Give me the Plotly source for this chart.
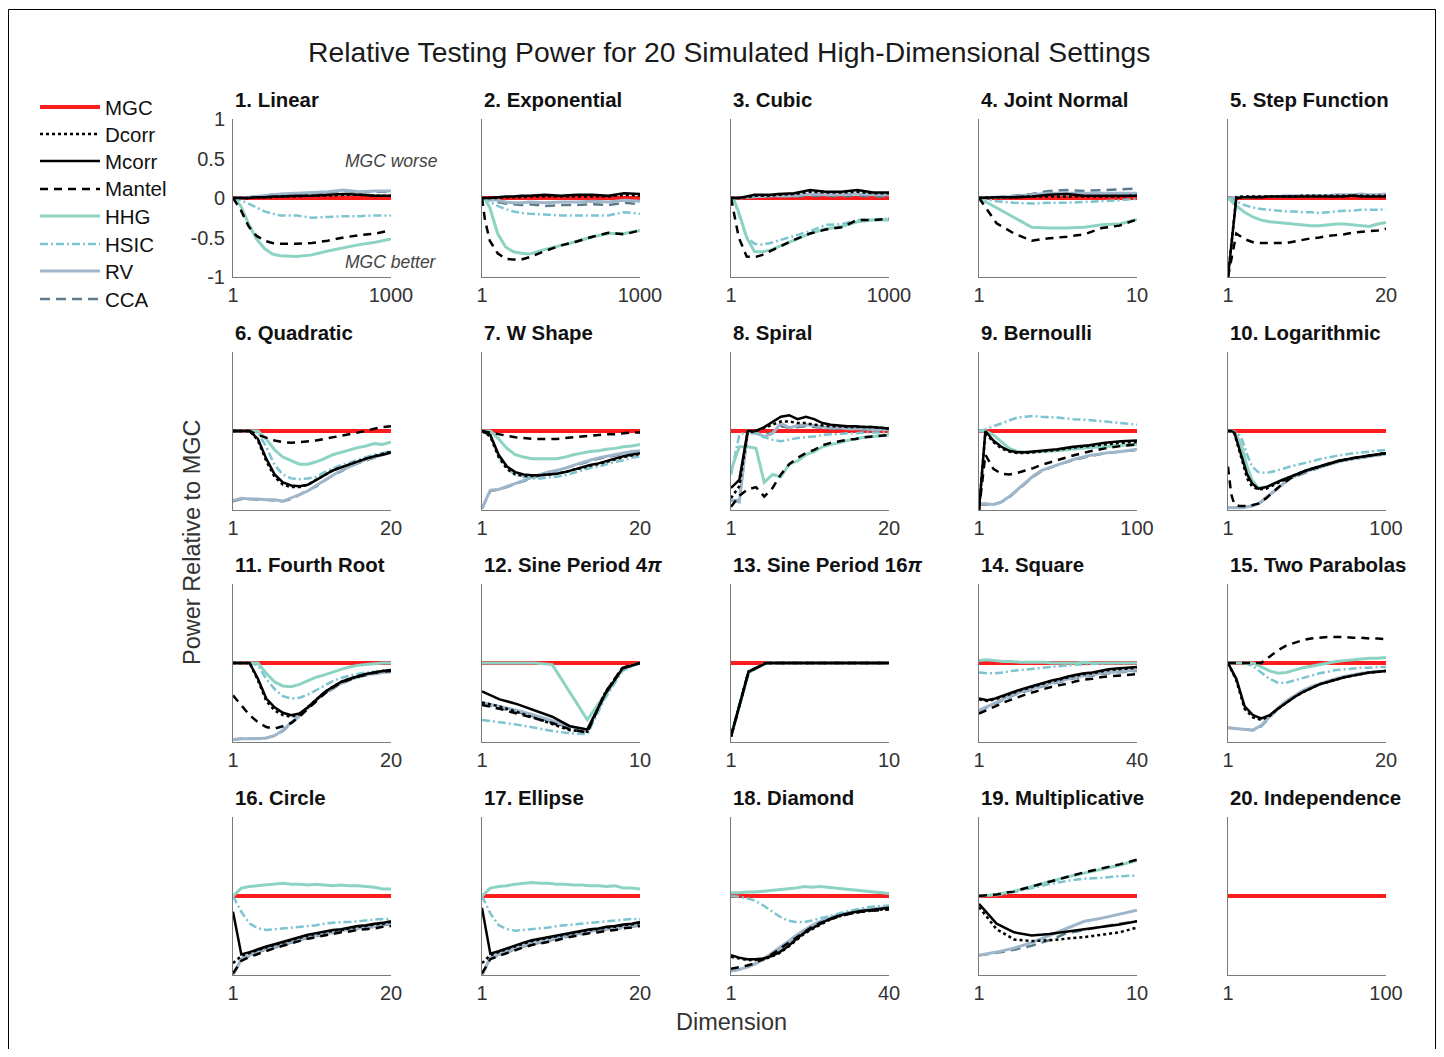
import plotly.graph_objects as go

# page is 1444x1057; the browser body keeps its default 8px margin,
# so the figure itself is 1428x1041 placed at (8, 8)
PAGE_W, PAGE_H = 1444, 1057
OFF = 8
W, H = PAGE_W - 2 * OFF, PAGE_H - 2 * OFF

# ---------------- data ----------------
X_1000 = [1, 20, 50, 100, 150, 200, 250, 300, 400, 500, 600, 700, 800, 900, 1000]
X_10 = [1, 2, 3, 4, 5, 6, 7, 8, 9, 10]
X_20 = [1, 2, 3, 4, 5, 6, 7, 8, 9, 10, 11, 12, 13, 14, 15, 16, 17, 18, 19, 20]
X_40 = [1, 3, 5, 7, 9, 11, 13, 15, 17, 19, 21, 23, 25, 27, 29, 31, 33, 35, 37, 40]
X_100A = [1, 5, 10, 15, 20, 25, 30, 35, 40, 50, 60, 70, 80, 90, 100]
X_100B = [1, 3, 5, 8, 10, 13, 16, 20, 25, 30, 35, 40, 50, 60, 70, 80, 90, 100]
X_100C = [1, 25, 50, 75, 100]

Z15 = [0, 0, 0, 0, 0, 0, 0, 0, 0, 0, 0, 0, 0, 0, 0]
Z10 = [0, 0, 0, 0, 0, 0, 0, 0, 0, 0]
Z20 = [0, 0, 0, 0, 0, 0, 0, 0, 0, 0, 0, 0, 0, 0, 0, 0, 0, 0, 0, 0]
Z18 = [0, 0, 0, 0, 0, 0, 0, 0, 0, 0, 0, 0, 0, 0, 0, 0, 0, 0]
Z5 = [0, 0, 0, 0, 0]

LINEAR = {
    "x": X_1000, "MGC": Z15,
    "Dcorr": [0, 0, 0, 0, 0.01, 0.01, 0.01, 0.02, 0.02, 0.03, 0.03, 0.04, 0.04, 0.03, 0.03],
    "Mcorr": [0, 0, 0, 0, 0.01, 0.01, 0.02, 0.02, 0.03, 0.03, 0.04, 0.05, 0.04, 0.03, 0.03],
    "Mantel": [0, -0.06, -0.15, -0.36, -0.48, -0.54, -0.57, -0.58, -0.58, -0.57, -0.54, -0.5, -0.47, -0.45, -0.41],
    "HHG": [0, -0.03, -0.1, -0.33, -0.52, -0.64, -0.71, -0.73, -0.74, -0.72, -0.67, -0.63, -0.59, -0.56, -0.52],
    "HSIC": [0, -0.01, -0.03, -0.07, -0.12, -0.17, -0.2, -0.22, -0.22, -0.25, -0.24, -0.23, -0.23, -0.22, -0.22],
    "RV": [0, 0, 0, 0.01, 0.02, 0.03, 0.04, 0.05, 0.06, 0.07, 0.08, 0.1, 0.08, 0.09, 0.09],
    "CCA": [0, 0, 0, 0.01, 0.02, 0.03, 0.04, 0.04, 0.06, 0.06, 0.07, 0.09, 0.07, 0.08, 0.08],
}
EXPONENTIAL = {
    "x": X_1000, "MGC": Z15,
    "Dcorr": [0, 0, 0, 0, 0.01, 0.01, 0.01, 0.02, 0.02, 0.02, 0.02, 0.02, 0.02, 0.04, 0.03],
    "Mcorr": [0, 0, 0, 0.01, 0.02, 0.02, 0.03, 0.03, 0.04, 0.03, 0.04, 0.04, 0.03, 0.06, 0.05],
    "Mantel": [0, -0.28, -0.54, -0.7, -0.77, -0.78, -0.78, -0.75, -0.67, -0.6, -0.55, -0.49, -0.44, -0.46, -0.41],
    "HHG": [0, -0.02, -0.12, -0.45, -0.62, -0.68, -0.7, -0.71, -0.65, -0.6, -0.55, -0.49, -0.45, -0.45, -0.41],
    "HSIC": [0, -0.02, -0.05, -0.1, -0.14, -0.17, -0.19, -0.2, -0.21, -0.22, -0.22, -0.22, -0.22, -0.18, -0.2],
    "RV": [0, -0.01, -0.02, -0.03, -0.05, -0.06, -0.06, -0.05, -0.06, -0.05, -0.05, -0.04, -0.05, -0.03, -0.04],
    "CCA": [0, -0.01, -0.03, -0.05, -0.07, -0.08, -0.09, -0.08, -0.1, -0.09, -0.09, -0.08, -0.09, -0.06, -0.08],
}
CUBIC = {
    "x": X_1000, "MGC": Z15,
    "Dcorr": [0, 0, 0, 0.01, 0.03, 0.03, 0.03, 0.04, 0.05, 0.08, 0.07, 0.07, 0.08, 0.06, 0.06],
    "Mcorr": [0, 0, 0, 0.02, 0.04, 0.04, 0.04, 0.05, 0.06, 0.1, 0.08, 0.08, 0.1, 0.07, 0.07],
    "Mantel": [0, -0.2, -0.5, -0.74, -0.75, -0.72, -0.67, -0.62, -0.53, -0.45, -0.4, -0.37, -0.28, -0.28, -0.26],
    "HHG": [0, -0.03, -0.18, -0.5, -0.68, -0.68, -0.66, -0.62, -0.54, -0.45, -0.39, -0.36, -0.3, -0.28, -0.28],
    "HSIC": [0, -0.03, -0.2, -0.5, -0.58, -0.59, -0.57, -0.54, -0.48, -0.42, -0.34, -0.33, -0.28, -0.27, -0.26],
    "RV": [0, 0, 0, 0.01, 0.02, 0.02, 0.03, 0.03, 0.03, 0.05, 0.04, 0.04, 0.05, 0.04, 0.04],
    "CCA": [0, 0, 0, 0.01, 0.01, 0.02, 0.02, 0.02, 0.02, 0.03, 0.03, 0.02, 0.03, 0.02, 0.02],
}
JOINT_NORMAL = {
    "x": X_10, "MGC": Z10,
    "Dcorr": [0, 0.01, 0.01, 0.02, 0.02, 0.02, 0.02, 0.02, 0.02, 0.03],
    "Mcorr": [0, 0.01, 0.01, 0.02, 0.04, 0.05, 0.03, 0.03, 0.03, 0.03],
    "Mantel": [0, -0.32, -0.45, -0.54, -0.51, -0.49, -0.46, -0.38, -0.35, -0.27],
    "HHG": [0, -0.12, -0.25, -0.37, -0.38, -0.38, -0.37, -0.34, -0.33, -0.27],
    "HSIC": [0, -0.04, -0.06, -0.07, -0.06, -0.06, -0.05, -0.04, -0.03, -0.01],
    "RV": [0, 0.01, 0.02, 0.04, 0.06, 0.06, 0.06, 0.06, 0.06, 0.06],
    "CCA": [0, 0.01, 0.03, 0.05, 0.09, 0.1, 0.09, 0.1, 0.11, 0.12],
}
STEP_FUNCTION = {
    "x": X_20, "MGC": Z20,
    "Dcorr": [-1, 0.01, 0.02, 0.02, 0.02, 0.02, 0.02, 0.02, 0.02, 0.03, 0.03, 0.03, 0.03, 0.03, 0.03, 0.03, 0.03, 0.03, 0.03, 0.03],
    "Mcorr": [-1, 0, 0.01, 0.01, 0.01, 0.02, 0.02, 0.02, 0.02, 0.02, 0.02, 0.02, 0.02, 0.02, 0.02, 0.03, 0.02, 0.02, 0.02, 0.02],
    "Mantel": [-1, -0.45, -0.52, -0.56, -0.57, -0.57, -0.57, -0.57, -0.55, -0.53, -0.51, -0.5, -0.48, -0.47, -0.46, -0.44, -0.43, -0.42, -0.41, -0.39],
    "HHG": [0, -0.1, -0.18, -0.24, -0.28, -0.3, -0.31, -0.32, -0.33, -0.34, -0.35, -0.35, -0.34, -0.33, -0.33, -0.34, -0.35, -0.36, -0.33, -0.31],
    "HSIC": [0, -0.05, -0.09, -0.12, -0.14, -0.15, -0.16, -0.17, -0.17, -0.18, -0.18, -0.19, -0.18, -0.17, -0.16, -0.16, -0.15, -0.15, -0.15, -0.14],
    "RV": [0, 0.01, 0.01, 0.02, 0.02, 0.02, 0.02, 0.03, 0.03, 0.03, 0.03, 0.03, 0.03, 0.04, 0.04, 0.04, 0.05, 0.04, 0.04, 0.05],
    "CCA": [0, 0.01, 0.01, 0.01, 0.02, 0.02, 0.02, 0.02, 0.02, 0.02, 0.03, 0.03, 0.03, 0.03, 0.03, 0.03, 0.04, 0.03, 0.03, 0.04],
}
QUADRATIC = {
    "x": X_20, "MGC": Z20,
    "Dcorr": [0, 0, 0, -0.12, -0.38, -0.58, -0.68, -0.71, -0.71, -0.68, -0.62, -0.56, -0.5, -0.46, -0.42, -0.38, -0.35, -0.32, -0.29, -0.26],
    "Mcorr": [0, 0, 0, -0.1, -0.35, -0.55, -0.65, -0.69, -0.7, -0.68, -0.62, -0.56, -0.5, -0.46, -0.42, -0.38, -0.35, -0.32, -0.3, -0.27],
    "Mantel": [0, 0, 0, -0.05, -0.09, -0.12, -0.14, -0.15, -0.14, -0.13, -0.12, -0.1, -0.08, -0.06, -0.04, -0.02, 0, 0.03, 0.05, 0.06],
    "HHG": [0, 0, 0, 0, -0.1, -0.24, -0.33, -0.38, -0.42, -0.42, -0.39, -0.35, -0.3, -0.27, -0.24, -0.21, -0.19, -0.16, -0.17, -0.14],
    "HSIC": [0, 0, 0, -0.02, -0.2, -0.43, -0.55, -0.6, -0.61, -0.6, -0.58, -0.52, -0.47, -0.43, -0.4, -0.36, -0.33, -0.3, -0.28, -0.26],
    "RV": [-0.88, -0.85, -0.86, -0.86, -0.87, -0.87, -0.89, -0.85, -0.8, -0.76, -0.69, -0.62, -0.56, -0.5, -0.45, -0.4, -0.36, -0.33, -0.3, -0.27],
    "CCA": [-0.89, -0.86, -0.86, -0.87, -0.87, -0.88, -0.89, -0.86, -0.81, -0.76, -0.7, -0.63, -0.56, -0.51, -0.45, -0.41, -0.37, -0.33, -0.3, -0.27],
}
W_SHAPE = {
    "x": X_20, "MGC": Z20,
    "Dcorr": [0, -0.07, -0.33, -0.48, -0.55, -0.57, -0.57, -0.56, -0.55, -0.54, -0.52, -0.49, -0.47, -0.44, -0.42, -0.39, -0.36, -0.33, -0.31, -0.29],
    "Mcorr": [0, -0.05, -0.3, -0.45, -0.52, -0.55, -0.56, -0.56, -0.55, -0.54, -0.52, -0.49, -0.46, -0.43, -0.41, -0.38, -0.35, -0.32, -0.3, -0.28],
    "Mantel": [0, -0.02, -0.04, -0.06, -0.08, -0.09, -0.1, -0.1, -0.1, -0.1, -0.09, -0.08, -0.07, -0.06, -0.05, -0.04, -0.04, -0.03, -0.02, -0.02],
    "HHG": [0, 0, -0.1, -0.22, -0.3, -0.33, -0.35, -0.35, -0.35, -0.35, -0.33, -0.3, -0.28, -0.26, -0.25, -0.23, -0.22, -0.2, -0.19, -0.17],
    "HSIC": [0, -0.06, -0.32, -0.48, -0.55, -0.58, -0.6, -0.6, -0.59, -0.58, -0.56, -0.53, -0.5, -0.47, -0.45, -0.42, -0.39, -0.37, -0.34, -0.32],
    "RV": [-0.98, -0.75, -0.74, -0.7, -0.66, -0.62, -0.58, -0.55, -0.52, -0.5, -0.47, -0.43, -0.4, -0.37, -0.34, -0.32, -0.3, -0.28, -0.26, -0.25],
    "CCA": [-0.98, -0.76, -0.74, -0.71, -0.67, -0.63, -0.59, -0.56, -0.53, -0.5, -0.47, -0.44, -0.41, -0.38, -0.35, -0.33, -0.31, -0.29, -0.27, -0.26],
}
SPIRAL = {
    "x": X_20, "MGC": Z20,
    "Dcorr": [-0.85, -0.7, -0.02, 0, 0.04, 0.08, 0.12, 0.12, 0.1, 0.1, 0.08, 0.07, 0.06, 0.06, 0.05, 0.05, 0.05, 0.05, 0.04, 0.03],
    "Mcorr": [-0.72, -0.62, 0, 0, 0.05, 0.12, 0.18, 0.2, 0.15, 0.18, 0.15, 0.1, 0.08, 0.07, 0.06, 0.06, 0.05, 0.05, 0.04, 0.03],
    "Mantel": [-0.96, -0.82, -0.74, -0.71, -0.83, -0.72, -0.55, -0.42, -0.34, -0.28, -0.24, -0.18, -0.15, -0.13, -0.11, -0.1, -0.08, -0.07, -0.06, -0.05],
    "HHG": [-0.5, -0.2, -0.2, -0.22, -0.65, -0.55, -0.58, -0.42, -0.38, -0.3, -0.26, -0.2, -0.17, -0.15, -0.12, -0.1, -0.08, -0.07, -0.06, -0.05],
    "HSIC": [-0.55, -0.05, 0, -0.03, -0.08, -0.11, -0.13, -0.11, -0.09, -0.08, -0.07, -0.05, -0.04, -0.04, -0.03, -0.03, -0.02, -0.02, -0.02, -0.02],
    "RV": [-0.87, -0.9, 0, -0.02, -0.07, -0.03, 0.1, 0.04, 0.07, 0.08, 0.07, 0.05, 0.04, 0.04, 0.03, 0.03, 0.03, 0.02, 0.02, 0.02],
    "CCA": [-0.88, -0.88, -0.02, -0.03, -0.05, -0.02, 0.06, 0.04, 0.05, 0.06, 0.05, 0.04, 0.03, 0.03, 0.03, 0.02, 0.02, 0.02, 0.02, 0.02],
}
BERNOULLI = {
    "x": X_100A, "MGC": Z15,
    "Dcorr": [-1, -0.02, -0.14, -0.22, -0.26, -0.28, -0.28, -0.27, -0.26, -0.24, -0.21, -0.19, -0.17, -0.15, -0.14],
    "Mcorr": [-1, 0, -0.12, -0.2, -0.25, -0.27, -0.27, -0.26, -0.25, -0.23, -0.2, -0.18, -0.15, -0.13, -0.12],
    "Mantel": [-1, -0.3, -0.48, -0.54, -0.55, -0.53, -0.5, -0.47, -0.43, -0.37, -0.31, -0.26, -0.22, -0.19, -0.17],
    "HHG": [0, 0, -0.05, -0.14, -0.22, -0.26, -0.27, -0.27, -0.26, -0.25, -0.23, -0.21, -0.2, -0.18, -0.17],
    "HSIC": [0, 0.02, 0.06, 0.1, 0.14, 0.17, 0.18, 0.19, 0.18, 0.17, 0.15, 0.14, 0.12, 0.1, 0.08],
    "RV": [-0.92, -0.92, -0.93, -0.9, -0.83, -0.74, -0.65, -0.57, -0.5, -0.43, -0.36, -0.31, -0.28, -0.26, -0.23],
    "CCA": [-0.93, -0.93, -0.93, -0.9, -0.84, -0.75, -0.66, -0.58, -0.51, -0.43, -0.37, -0.32, -0.28, -0.26, -0.24],
}
LOGARITHMIC = {
    "x": X_100B, "MGC": Z18,
    "Dcorr": [0, 0, -0.03, -0.25, -0.4, -0.6, -0.7, -0.74, -0.73, -0.68, -0.63, -0.58, -0.5, -0.44, -0.38, -0.34, -0.31, -0.28],
    "Mcorr": [0, 0, -0.02, -0.22, -0.35, -0.55, -0.66, -0.73, -0.71, -0.66, -0.62, -0.58, -0.5, -0.44, -0.38, -0.34, -0.31, -0.28],
    "Mantel": [-0.45, -0.8, -0.93, -0.95, -0.95, -0.95, -0.94, -0.92, -0.85, -0.76, -0.67, -0.6, -0.5, -0.44, -0.38, -0.34, -0.31, -0.28],
    "HHG": [0, 0, -0.01, -0.12, -0.22, -0.45, -0.62, -0.72, -0.71, -0.66, -0.62, -0.58, -0.5, -0.44, -0.38, -0.34, -0.31, -0.28],
    "HSIC": [0, 0, -0.01, -0.05, -0.12, -0.3, -0.45, -0.52, -0.53, -0.51, -0.48, -0.45, -0.4, -0.35, -0.31, -0.28, -0.26, -0.24],
    "RV": [-0.97, -0.97, -0.97, -0.97, -0.97, -0.96, -0.95, -0.92, -0.84, -0.75, -0.67, -0.6, -0.51, -0.45, -0.39, -0.35, -0.32, -0.29],
    "CCA": [-0.97, -0.97, -0.97, -0.97, -0.97, -0.96, -0.95, -0.93, -0.85, -0.76, -0.68, -0.6, -0.52, -0.45, -0.39, -0.35, -0.32, -0.29],
}
FOURTH_ROOT = {
    "x": X_20, "MGC": Z20,
    "Dcorr": [0, 0, 0, -0.22, -0.48, -0.6, -0.66, -0.68, -0.65, -0.56, -0.46, -0.37, -0.3, -0.24, -0.2, -0.17, -0.14, -0.12, -0.1, -0.09],
    "Mcorr": [0, 0, 0, -0.2, -0.45, -0.56, -0.63, -0.66, -0.64, -0.56, -0.46, -0.37, -0.3, -0.24, -0.2, -0.17, -0.14, -0.12, -0.1, -0.09],
    "Mantel": [-0.41, -0.53, -0.66, -0.75, -0.81, -0.83, -0.8, -0.76, -0.68, -0.58, -0.48, -0.39, -0.31, -0.25, -0.21, -0.17, -0.15, -0.12, -0.11, -0.1],
    "HHG": [0, 0, 0, 0, -0.13, -0.24, -0.29, -0.3, -0.27, -0.22, -0.18, -0.15, -0.11, -0.08, -0.05, -0.03, -0.02, -0.01, 0, 0],
    "HSIC": [0, 0, 0, -0.03, -0.2, -0.33, -0.42, -0.45, -0.44, -0.4, -0.34, -0.28, -0.23, -0.19, -0.16, -0.14, -0.12, -0.11, -0.1, -0.09],
    "RV": [-0.97, -0.96, -0.96, -0.96, -0.95, -0.92, -0.85, -0.76, -0.66, -0.56, -0.47, -0.38, -0.31, -0.26, -0.21, -0.18, -0.15, -0.13, -0.12, -0.11],
    "CCA": [-0.97, -0.96, -0.96, -0.96, -0.95, -0.92, -0.86, -0.77, -0.67, -0.57, -0.47, -0.39, -0.32, -0.26, -0.22, -0.18, -0.16, -0.14, -0.12, -0.11],
}
SINE_4PI = {
    "x": X_10, "MGC": Z10,
    "Dcorr": [-0.5, -0.55, -0.62, -0.7, -0.77, -0.85, -0.87, -0.38, -0.06, 0],
    "Mcorr": [-0.36, -0.46, -0.52, -0.6, -0.68, -0.8, -0.84, -0.4, -0.07, 0],
    "Mantel": [-0.53, -0.58, -0.64, -0.7, -0.76, -0.84, -0.88, -0.38, -0.06, 0],
    "HHG": [0, 0, 0, 0, -0.02, -0.37, -0.72, -0.4, -0.08, 0],
    "HSIC": [-0.72, -0.75, -0.78, -0.82, -0.86, -0.89, -0.9, -0.45, -0.1, 0],
    "RV": [-0.5, -0.55, -0.6, -0.66, -0.73, -0.8, -0.85, -0.42, -0.07, 0],
    "CCA": [-0.52, -0.57, -0.62, -0.68, -0.75, -0.82, -0.86, -0.4, -0.07, 0],
}
SINE_16PI = {
    "x": X_10, "MGC": Z10,
    "Dcorr": [-0.93, -0.11, 0, 0, 0, 0, 0, 0, 0, 0],
    "Mcorr": [-0.93, -0.11, 0, 0, 0, 0, 0, 0, 0, 0],
    "Mantel": [-0.93, -0.11, 0, 0, 0, 0, 0, 0, 0, 0],
    "HHG": [-0.93, -0.12, 0, 0, 0, 0, 0, 0, 0, 0],
    "HSIC": [-0.92, -0.11, 0, 0, 0, 0, 0, 0, 0, 0],
    "RV": [-0.93, -0.12, 0, 0, 0, 0, 0, 0, 0, 0],
    "CCA": [-0.93, -0.12, 0, 0, 0, 0, 0, 0, 0, 0],
}
SQUARE = {
    "x": X_40, "MGC": Z20,
    "Dcorr": [-0.46, -0.48, -0.46, -0.42, -0.38, -0.35, -0.32, -0.29, -0.26, -0.23, -0.21, -0.18, -0.16, -0.14, -0.13, -0.11, -0.09, -0.08, -0.07, -0.06],
    "Mcorr": [-0.45, -0.47, -0.45, -0.41, -0.37, -0.34, -0.31, -0.28, -0.25, -0.22, -0.2, -0.17, -0.15, -0.13, -0.12, -0.1, -0.08, -0.07, -0.06, -0.05],
    "Mantel": [-0.64, -0.6, -0.55, -0.5, -0.46, -0.42, -0.39, -0.36, -0.33, -0.3, -0.28, -0.26, -0.23, -0.21, -0.2, -0.18, -0.17, -0.16, -0.15, -0.14],
    "HHG": [0.03, 0.04, 0.03, 0.02, 0.02, 0.01, 0.01, 0.01, 0.01, 0, 0, 0, 0, 0.01, 0, 0, 0, 0, 0, 0],
    "HSIC": [-0.12, -0.13, -0.13, -0.12, -0.1, -0.09, -0.08, -0.07, -0.06, -0.05, -0.04, -0.03, -0.02, -0.02, -0.01, -0.01, 0, 0, 0, 0],
    "RV": [-0.6, -0.55, -0.5, -0.45, -0.41, -0.37, -0.34, -0.31, -0.28, -0.25, -0.23, -0.2, -0.18, -0.16, -0.15, -0.13, -0.12, -0.11, -0.1, -0.09],
    "CCA": [-0.61, -0.56, -0.51, -0.46, -0.42, -0.38, -0.35, -0.32, -0.29, -0.26, -0.24, -0.21, -0.19, -0.17, -0.16, -0.14, -0.13, -0.12, -0.11, -0.1],
}
TWO_PARABOLAS = {
    "x": X_20, "MGC": Z20,
    "Dcorr": [0, -0.22, -0.58, -0.69, -0.72, -0.67, -0.58, -0.5, -0.43, -0.37, -0.32, -0.27, -0.24, -0.21, -0.18, -0.16, -0.14, -0.12, -0.11, -0.1],
    "Mcorr": [0, -0.2, -0.55, -0.66, -0.7, -0.66, -0.58, -0.5, -0.43, -0.37, -0.32, -0.27, -0.24, -0.21, -0.18, -0.16, -0.14, -0.12, -0.11, -0.1],
    "Mantel": [0, 0, 0, 0, 0, 0.08, 0.16, 0.22, 0.26, 0.29, 0.31, 0.32, 0.33, 0.33, 0.33, 0.32, 0.32, 0.31, 0.31, 0.3],
    "HHG": [0, 0, 0, 0, -0.05, -0.1, -0.13, -0.12, -0.09, -0.06, -0.04, -0.02, 0, 0.02, 0.03, 0.04, 0.05, 0.06, 0.06, 0.07],
    "HSIC": [0, 0, 0, -0.04, -0.12, -0.2, -0.25, -0.25, -0.22, -0.19, -0.16, -0.13, -0.11, -0.09, -0.08, -0.07, -0.06, -0.06, -0.05, -0.05],
    "RV": [-0.82, -0.83, -0.84, -0.85, -0.79, -0.68, -0.57, -0.48, -0.41, -0.35, -0.3, -0.26, -0.23, -0.2, -0.17, -0.15, -0.13, -0.12, -0.11, -0.1],
    "CCA": [-0.82, -0.83, -0.84, -0.85, -0.8, -0.69, -0.58, -0.49, -0.42, -0.36, -0.31, -0.27, -0.23, -0.2, -0.18, -0.16, -0.14, -0.12, -0.11, -0.1],
}
CIRCLE = {
    "x": X_20, "MGC": Z20,
    "Dcorr": [-0.85, -0.76, -0.72, -0.68, -0.65, -0.62, -0.59, -0.56, -0.53, -0.5, -0.48, -0.46, -0.44, -0.43, -0.41, -0.39, -0.38, -0.36, -0.35, -0.33],
    "Mcorr": [-0.2, -0.74, -0.71, -0.67, -0.64, -0.61, -0.58, -0.55, -0.52, -0.49, -0.47, -0.45, -0.43, -0.42, -0.4, -0.38, -0.37, -0.35, -0.34, -0.32],
    "Mantel": [-0.98, -0.82, -0.77, -0.73, -0.69, -0.66, -0.63, -0.6, -0.57, -0.54, -0.52, -0.5, -0.48, -0.46, -0.45, -0.43, -0.42, -0.41, -0.39, -0.38],
    "HHG": [0, 0.1, 0.12, 0.13, 0.14, 0.15, 0.16, 0.15, 0.15, 0.14, 0.15, 0.14, 0.13, 0.14, 0.13, 0.13, 0.12, 0.11, 0.09, 0.09],
    "HSIC": [0, -0.2, -0.35, -0.41, -0.43, -0.42, -0.41, -0.4, -0.39, -0.38, -0.37, -0.35, -0.34, -0.33, -0.33, -0.32, -0.31, -0.3, -0.29, -0.29],
    "RV": [-1.0, -0.8, -0.75, -0.7, -0.67, -0.64, -0.61, -0.58, -0.55, -0.52, -0.5, -0.48, -0.46, -0.44, -0.42, -0.41, -0.39, -0.38, -0.36, -0.35],
    "CCA": [-1.0, -0.81, -0.76, -0.71, -0.68, -0.65, -0.62, -0.59, -0.56, -0.53, -0.51, -0.49, -0.47, -0.45, -0.43, -0.42, -0.4, -0.39, -0.37, -0.36],
}
ELLIPSE = {
    "x": X_20, "MGC": Z20,
    "Dcorr": [-0.85, -0.75, -0.71, -0.67, -0.63, -0.6, -0.57, -0.55, -0.53, -0.51, -0.49, -0.47, -0.45, -0.43, -0.42, -0.4, -0.39, -0.37, -0.36, -0.34],
    "Mcorr": [-0.15, -0.73, -0.7, -0.66, -0.62, -0.59, -0.56, -0.54, -0.52, -0.5, -0.48, -0.46, -0.44, -0.42, -0.41, -0.39, -0.38, -0.36, -0.35, -0.33],
    "Mantel": [-0.98, -0.8, -0.76, -0.72, -0.68, -0.65, -0.62, -0.6, -0.58, -0.56, -0.53, -0.51, -0.49, -0.47, -0.46, -0.44, -0.43, -0.41, -0.4, -0.38],
    "HHG": [0, 0.1, 0.12, 0.13, 0.15, 0.16, 0.17, 0.16, 0.16, 0.15, 0.15, 0.14, 0.14, 0.13, 0.13, 0.12, 0.13, 0.1, 0.1, 0.09],
    "HSIC": [0, -0.22, -0.37, -0.42, -0.44, -0.43, -0.42, -0.41, -0.4, -0.38, -0.37, -0.36, -0.35, -0.34, -0.33, -0.32, -0.31, -0.3, -0.29, -0.29],
    "RV": [-1.0, -0.78, -0.74, -0.7, -0.66, -0.63, -0.6, -0.58, -0.56, -0.53, -0.51, -0.49, -0.47, -0.45, -0.43, -0.42, -0.41, -0.39, -0.38, -0.36],
    "CCA": [-1.0, -0.79, -0.75, -0.71, -0.67, -0.64, -0.61, -0.59, -0.57, -0.54, -0.52, -0.5, -0.48, -0.46, -0.44, -0.43, -0.42, -0.4, -0.39, -0.37],
}
DIAMOND = {
    "x": X_40, "MGC": Z20,
    "Dcorr": [-0.77, -0.79, -0.81, -0.81, -0.8, -0.77, -0.72, -0.65, -0.56, -0.48, -0.42, -0.36, -0.31, -0.27, -0.24, -0.22, -0.2, -0.19, -0.18, -0.16],
    "Mcorr": [-0.75, -0.78, -0.8, -0.8, -0.79, -0.76, -0.71, -0.64, -0.55, -0.47, -0.41, -0.35, -0.3, -0.26, -0.23, -0.21, -0.19, -0.18, -0.17, -0.15],
    "Mantel": [-0.92, -0.9, -0.88, -0.85, -0.8, -0.74, -0.67, -0.6, -0.52, -0.45, -0.39, -0.34, -0.3, -0.27, -0.24, -0.22, -0.2, -0.19, -0.18, -0.17],
    "HHG": [0.04, 0.04, 0.05, 0.05, 0.06, 0.07, 0.08, 0.09, 0.1, 0.12, 0.11, 0.12, 0.11, 0.1, 0.09, 0.08, 0.07, 0.06, 0.05, 0.03],
    "HSIC": [0, -0.01, -0.03, -0.06, -0.12, -0.19, -0.26, -0.31, -0.33, -0.33, -0.31, -0.28, -0.26, -0.23, -0.2, -0.18, -0.16, -0.14, -0.13, -0.12],
    "RV": [-0.95, -0.93, -0.9, -0.86, -0.8, -0.73, -0.66, -0.58, -0.5, -0.43, -0.37, -0.32, -0.28, -0.25, -0.22, -0.2, -0.18, -0.17, -0.16, -0.14],
    "CCA": [-0.95, -0.93, -0.9, -0.86, -0.81, -0.74, -0.67, -0.59, -0.51, -0.44, -0.38, -0.33, -0.29, -0.26, -0.23, -0.21, -0.19, -0.18, -0.17, -0.15],
}
MULTIPLICATIVE = {
    "x": X_10, "MGC": Z10,
    "Dcorr": [-0.14, -0.42, -0.55, -0.57, -0.56, -0.54, -0.52, -0.49, -0.46, -0.4],
    "Mcorr": [-0.1, -0.35, -0.46, -0.5, -0.48, -0.45, -0.42, -0.39, -0.36, -0.32],
    "Mantel": [0, 0.02, 0.06, 0.12, 0.18, 0.24, 0.3, 0.35, 0.4, 0.46],
    "HHG": [0, 0.02, 0.06, 0.12, 0.18, 0.24, 0.29, 0.34, 0.39, 0.45],
    "HSIC": [0, 0.01, 0.05, 0.1, 0.15, 0.19, 0.22, 0.23, 0.25, 0.26],
    "RV": [-0.75, -0.71, -0.66, -0.59, -0.5, -0.41, -0.32, -0.28, -0.23, -0.18],
    "CCA": [-0.75, -0.72, -0.68, -0.63, -0.56, -0.47, -0.43, -0.39, -0.35, -0.32],
}
INDEPENDENCE = {"x": X_100C, "MGC": Z5}

PANELS = [LINEAR, EXPONENTIAL, CUBIC, JOINT_NORMAL, STEP_FUNCTION,
          QUADRATIC, W_SHAPE, SPIRAL, BERNOULLI, LOGARITHMIC,
          FOURTH_ROOT, SINE_4PI, SINE_16PI, SQUARE, TWO_PARABOLAS,
          CIRCLE, ELLIPSE, DIAMOND, MULTIPLICATIVE, INDEPENDENCE]
TITLES = ["1. Linear", "2. Exponential", "3. Cubic", "4. Joint Normal", "5. Step Function",
          "6. Quadratic", "7. W Shape", "8. Spiral", "9. Bernoulli", "10. Logarithmic",
          "11. Fourth Root", "12. Sine Period 4<i>π</i>", "13. Sine Period 16<i>π</i>", "14. Square", "15. Two Parabolas",
          "16. Circle", "17. Ellipse", "18. Diamond", "19. Multiplicative", "20. Independence"]
X_MAX = [1000, 1000, 1000, 10, 20,
         20, 20, 20, 100, 100,
         20, 10, 10, 40, 20,
         20, 20, 40, 10, 100]
METHODS = ["MGC", "Dcorr", "Mcorr", "Mantel", "HHG", "HSIC", "RV", "CCA"]
Y_TICKS = [-1, -0.5, 0, 0.5, 1]
Y_TICK_TEXT = ["-1", "-0.5", "0", "0.5", "1"]

# ---------------- styles ----------------
STYLE = {
    "MGC": dict(color="#ff1c1c", width=4, dash="solid"),
    "Dcorr": dict(color="#000000", width=2.5, dash="3px,3px"),
    "Mcorr": dict(color="#000000", width=2.5, dash="solid"),
    "Mantel": dict(color="#000000", width=2.5, dash="8px,6px"),
    "HHG": dict(color="#8dd3c3", width=3, dash="solid"),
    "HSIC": dict(color="#7cc4cf", width=2.5, dash="8px,3px,2px,3px"),
    "RV": dict(color="#9fb6ca", width=3, dash="solid"),
    "CCA": dict(color="#5d7b8b", width=2.5, dash="10px,6px"),
}
DRAW_ORDER = ["MGC", "CCA", "RV", "HSIC", "HHG", "Mantel", "Mcorr", "Dcorr"]
FONT = "Liberation Sans, Arial, Helvetica, sans-serif"

# panel positions in page pixels
COL_LEFT = [233, 482, 731, 979, 1228]
ROW_TOP = [119, 352, 584, 817]
PW, PH = 158, 158


def px(x):
    """page x pixel -> paper fraction"""
    return (x - OFF) / W


def py(y):
    """page y pixel -> paper fraction"""
    return 1 - (y - OFF) / H


fig = go.Figure()
layout = dict(
    width=W, height=H, margin=dict(l=0, r=0, t=0, b=0, pad=0, autoexpand=False),
    paper_bgcolor="white", plot_bgcolor="white", showlegend=False,
    font=dict(family=FONT, color="#333333"),
)
annotations = []
shapes = []

for i, panel in enumerate(PANELS):
    k = i + 1
    r, c = divmod(i, 5)
    x0, y0 = COL_LEFT[c], ROW_TOP[r]
    xa = "x" if k == 1 else f"x{k}"
    ya = "y" if k == 1 else f"y{k}"
    for m in DRAW_ORDER:
        if m not in panel:
            continue
        st = STYLE[m]
        fig.add_trace(go.Scatter(
            x=panel["x"], y=panel[m], mode="lines", name=m,
            line=dict(color=st["color"], width=st["width"], dash=st["dash"]),
            xaxis=xa, yaxis=ya, hoverinfo="skip",
        ))
    n = X_MAX[i]
    layout["xaxis" if k == 1 else f"xaxis{k}"] = dict(
        domain=[px(x0), px(x0 + PW)], range=[1, n], anchor=ya,
        tickvals=[1, n], ticktext=["1", str(n)], showgrid=False, zeroline=False,
        showline=True, linecolor="#7a7a7a", linewidth=1, automargin=False,
        ticks="", tickfont=dict(size=20, color="#333333", family=FONT),
    )
    layout["yaxis" if k == 1 else f"yaxis{k}"] = dict(
        domain=[py(y0 + PH), py(y0)], range=[-1, 1], anchor=xa,
        tickvals=Y_TICKS, ticktext=Y_TICK_TEXT, showticklabels=(k == 1),
        showgrid=False, zeroline=False, automargin=False,
        showline=True, linecolor="#7a7a7a", linewidth=1,
        ticks="outside", ticklen=3, tickcolor="rgba(0,0,0,0)",
        tickfont=dict(size=20, color="#333333", family=FONT),
    )
    annotations.append(dict(
        x=px(x0), y=py(y0 - 19), xref="paper", yref="paper",
        text=f"<b>{TITLES[i]}</b>", showarrow=False, xanchor="left", yanchor="middle",
        font=dict(size=20.4, color="#111111", family=FONT),
    ))

# main title and axis labels
annotations.append(dict(x=px(729), y=py(52), xref="paper", yref="paper",
                        text="Relative Testing Power for 20 Simulated High-Dimensional Settings",
                        showarrow=False, xanchor="center", yanchor="middle",
                        font=dict(size=28.3, color="#1a1a1a", family=FONT)))
annotations.append(dict(x=px(192), y=py(542), xref="paper", yref="paper",
                        text="Power Relative to MGC", textangle=-90,
                        showarrow=False, xanchor="center", yanchor="middle",
                        font=dict(size=23.5, color="#333333", family=FONT)))
annotations.append(dict(x=px(731), y=py(1022), xref="paper", yref="paper",
                        text="Dimension", showarrow=False, xanchor="center", yanchor="middle",
                        font=dict(size=23.5, color="#333333", family=FONT)))
annotations.append(dict(x=px(391), y=py(161), xref="paper", yref="paper",
                        text="<i>MGC worse</i>", showarrow=False, xanchor="center", yanchor="middle",
                        font=dict(size=17.5, color="#444444", family=FONT)))
annotations.append(dict(x=px(391), y=py(262), xref="paper", yref="paper",
                        text="<i>MGC better</i>", showarrow=False, xanchor="center", yanchor="middle",
                        font=dict(size=17.5, color="#444444", family=FONT)))

# legend (drawn manually)
LEG_Y = [107, 134, 161, 189, 216, 244, 271, 299]
for m, ly in zip(METHODS, LEG_Y):
    st = STYLE[m]
    shapes.append(dict(type="line", xref="paper", yref="paper",
                       x0=px(40), x1=px(100), y0=py(ly), y1=py(ly),
                       line=dict(color=st["color"], width=st["width"], dash=st["dash"])))
    annotations.append(dict(x=px(103), y=py(ly), xref="paper", yref="paper",
                            text=m, showarrow=False, xanchor="left", yanchor="middle",
                            font=dict(size=20.5, color="#111111", family=FONT)))

# outer frame
shapes.append(dict(type="rect", xref="paper", yref="paper",
                   x0=px(8.5), x1=px(1435.5), y0=-0.02, y1=py(9.5),
                   line=dict(color="#000000", width=1), fillcolor="rgba(0,0,0,0)"))

layout["annotations"] = annotations
layout["shapes"] = shapes
fig.update_layout(**layout)
fig.write_html("out.html", config={"displayModeBar": False, "responsive": False})
